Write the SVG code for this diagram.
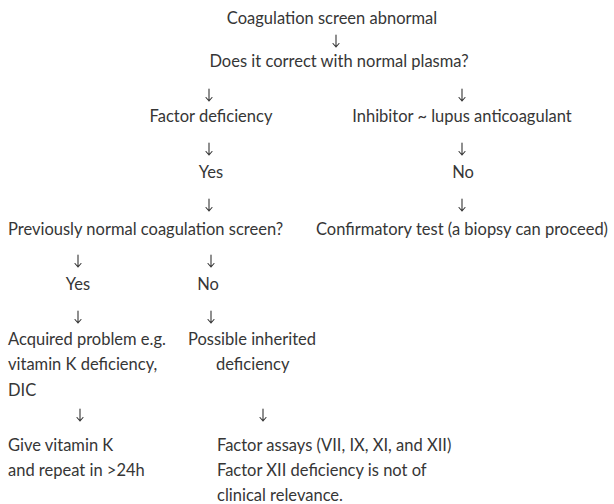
<svg xmlns="http://www.w3.org/2000/svg" width="614" height="504" viewBox="0 0 614 504">
<style>
text{font-family:Lato,"Open Sans","Liberation Sans",sans-serif;font-size:16.5px;fill:#363636}
.c{text-anchor:middle}
.arrow{fill:none;stroke:#363636;stroke-width:1.1;stroke-linecap:round;stroke-linejoin:round}
</style>
<rect width="614" height="504" fill="#fff"/>
<g id="connectors" class="arrow">
<path d="M336 35V47M333 43.5L336 47L339 43.5"/>
<path d="M209 89V101M206 97.5L209 101L212 97.5"/>
<path d="M462 89V101M459 97.5L462 101L465 97.5"/>
<path d="M209 143V155M206 151.5L209 155L212 151.5"/>
<path d="M462 143V155M459 151.5L462 155L465 151.5"/>
<path d="M209 199V211M206 207.5L209 211L212 207.5"/>
<path d="M462 199V211M459 207.5L462 211L465 207.5"/>
<path d="M78 255V267M75 263.5L78 267L81 263.5"/>
<path d="M211 255V267M208 263.5L211 267L214 263.5"/>
<path d="M78 311V323M75 319.5L78 323L81 319.5"/>
<path d="M211 311V323M208 319.5L211 323L214 319.5"/>
<path d="M80 409V421M77 417.5L80 421L83 417.5"/>
<path d="M263 409V421M260 417.5L263 421L266 417.5"/>
</g>
<g id="n1"><text class="c" x="332" y="24">Coagulation screen abnormal</text></g>
<g id="n2"><text class="c" x="339" y="67">Does it correct with normal plasma?</text></g>
<g id="n3"><text class="c" x="211" y="122">Factor deficiency</text></g>
<g id="n4"><text class="c" x="462" y="122">Inhibitor ~ lupus anticoagulant</text></g>
<g id="n5"><text class="c" x="211" y="178">Yes</text></g>
<g id="n6"><text class="c" x="463" y="178">No</text></g>
<g id="n7"><text x="8" y="235">Previously normal coagulation screen?</text></g>
<g id="n8"><text class="c" x="462" y="235">Confirmatory test (a biopsy can proceed)</text></g>
<g id="n9"><text class="c" x="78" y="290">Yes</text></g>
<g id="n10"><text class="c" x="208" y="290">No</text></g>
<g id="n11"><text x="8" y="345">Acquired problem e.g.</text><text x="8" y="370">vitamin K deficiency,</text><text x="8" y="396">DIC</text></g>
<g id="n12"><text x="188" y="345">Possible inherited</text><text x="216" y="370">deficiency</text></g>
<g id="n13"><text x="8" y="451">Give vitamin K</text><text x="8" y="476">and repeat in &gt;24h</text></g>
<g id="n14"><text x="217" y="451">Factor assays (VII, IX, XI, and XII)</text><text x="217" y="476">Factor XII deficiency is not of</text><text x="217" y="501">clinical relevance.</text></g>
</svg>
